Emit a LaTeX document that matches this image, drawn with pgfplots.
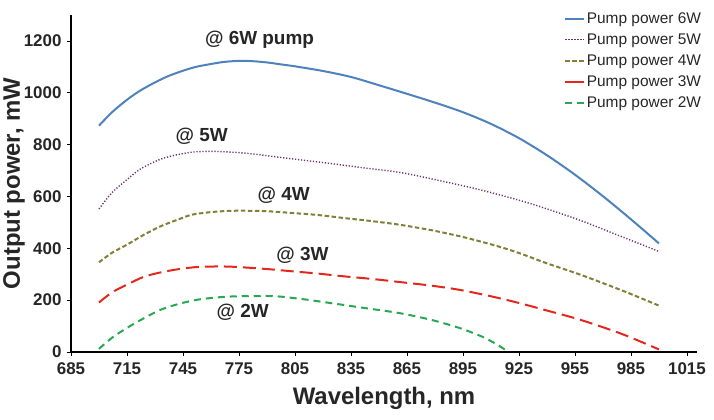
\documentclass[border=0pt]{standalone}
\usepackage{pgfplots}
\pgfplotsset{compat=1.18}
\usepackage{fontspec}
\setmainfont{Liberation Sans}
\definecolor{c6}{RGB}{79,129,189}
\definecolor{c5}{RGB}{112,48,112}
\definecolor{c4}{RGB}{128,128,56}
\definecolor{c3}{RGB}{228,38,28}
\definecolor{c2}{RGB}{40,168,80}
\begin{document}
\begin{tikzpicture}
\useasboundingbox (-71bp,-68bp) rectangle (643bp,352bp);
\begin{axis}[
  at={(0,0)}, anchor=origin,
  scale only axis, width=626bp, height=337bp,
  xmin=685, xmax=1020.4, ymin=0, ymax=1300,
  axis x line=bottom, axis y line=left,
  axis line style={-, line width=1.8bp, black},
  xtick={685,715,...,1015}, ytick={0,200,...,1200},
  tick align=outside, major tick length=4bp,
  tick style={black, line width=0.8bp},
  /pgf/number format/assume math mode=true,
  /pgf/number format/1000 sep={},
  tick label style={font=\fontsize{17}{20}\selectfont\bfseries, text=black!85},
  xticklabel style={yshift=-3bp},
  yticklabel style={xshift=-2bp},
  xlabel={Wavelength, nm}, ylabel={Output power, mW},
  label style={font=\fontsize{24}{28}\selectfont\bfseries, text=black!85},
  xlabel style={at={(axis description cs:0.5,-0.137)}, anchor=center},
  ylabel style={at={(axis description cs:-0.091,0.5)}, anchor=center, rotate=0},
  legend style={at={(rel axis cs:0.783,1.018)}, anchor=north west, draw=none, fill=none,
    font=\fontsize{15.5}{17}\selectfont, text=black!85, row sep=5.8bp,
    nodes={inner sep=1.5bp}},
  legend cell align=left,
  legend image code/.code={\draw[#1] (0bp,0bp) -- (19bp,0bp);},
  clip=false,
]
\addplot[c6, line width=2bp, smooth] coordinates {
(700,873) (707,925) (715,973) (722,1008) (730,1040) (737,1064) (745,1085) (752,1100) (760,1111) (767,1119) (775,1123) (782,1122) (790,1117) (797,1110) (805,1102) (820,1084) (835,1061) (850,1029) (865,996) (880,962) (895,925) (910,880) (925,825) (940,759) (955,684) (970,601) (985,512) (1000,419)};
\addlegendentry{Pump power 6W}
\addplot[c5, line width=1.4bp, dash pattern=on 1.2bp off 1.8bp, smooth] coordinates {
(700,552) (707,615) (715,665) (722,705) (732,741) (740,758) (750,771) (761,774) (775,769) (786,761) (800,748) (822,729) (840,712) (861,693) (880,665) (904,626) (930,575) (957,510) (980,445) (1000,388)};
\addlegendentry{Pump power 5W}
\addplot[c4, line width=2bp, dash pattern=on 4.5bp off 2.5bp, smooth] coordinates {
(700,346) (707,383) (715,414) (724,452) (733,485) (742,510) (750,530) (762,541) (774,545) (790,543) (804,536) (818,528) (831,517) (846,505) (861,491) (878,470) (893,447) (904,427) (915,405) (925,382) (940,342) (958,298) (980,238) (1000,179)};
\addlegendentry{Pump power 4W}
\addplot[c3, line width=2bp, dash pattern=on 13bp off 6bp, smooth, legend image post style={solid}] coordinates {
(700,191) (707,230) (715,260) (724,290) (733,307) (743,320) (753,328) (765,330) (774,328) (790,320) (804,311) (818,302) (831,292) (846,282) (861,270) (878,256) (893,240) (910,215) (925,189) (940,160) (958,124) (980,70) (1000,10)};
\addlegendentry{Pump power 3W}
\addplot[c2, line width=2bp, dash pattern=on 7bp off 5bp, smooth] coordinates {
(700,12) (707,55) (715,93) (724,130) (733,163) (743,186) (753,202) (764,211) (774,215) (785,216) (795,215) (808,205) (822,191) (840,172) (861,150) (878,124) (893,93) (905,60) (913,30) (919,2)};
\addlegendentry{Pump power 2W}
\begin{scope}[font=\fontsize{19}{22}\selectfont\bfseries, text=black!85]
\node at (axis cs:786,1205) {@ 6W pump};
\node at (axis cs:755,834) {@ 5W};
\node at (axis cs:799,603) {@ 4W};
\node at (axis cs:809,375) {@ 3W};
\node at (axis cs:777,155) {@ 2W};
\end{scope}
\end{axis}
\end{tikzpicture}
\end{document}
